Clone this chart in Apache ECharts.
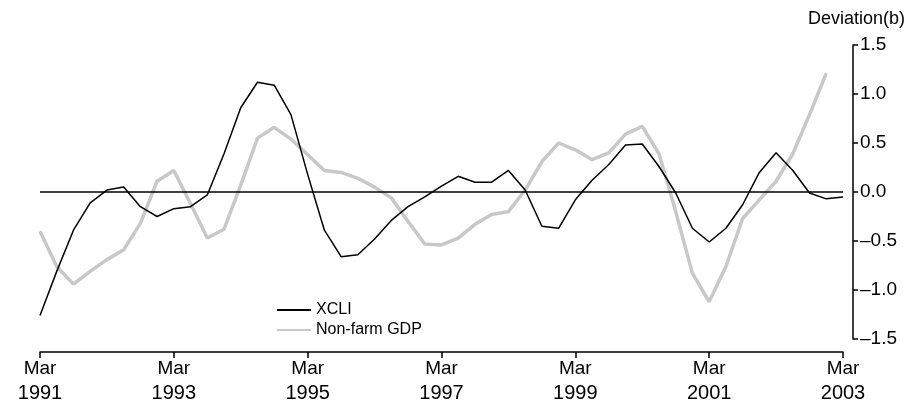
<!DOCTYPE html>
<html>
<head>
<meta charset="utf-8">
<script src="https://cdn.jsdelivr.net/npm/echarts@6/dist/echarts.min.js"></script>
<style>
  html, body { margin: 0; padding: 0; background: #fff; }
  #chart { width: 914px; height: 403px; }
</style>
</head>
<body>
<div id="chart"></div>
<script>
// quarters Mar 1991 .. Mar 2003
const months = ['Mar', 'Jun', 'Sep', 'Dec']
const quarters = []
for (let y = 1991; y <= 2003; y++) {
  months.forEach((m) => {
    if (y === 2003 && m !== 'Mar') return
    quarters.push(m + ' ' + y)
  })
}

const xcli = [
  -1.26, -0.81, -0.39, -0.11, 0.02, 0.05, -0.15, -0.25, -0.17, -0.15,
  -0.03, 0.39, 0.86, 1.12, 1.09, 0.79, 0.18, -0.39, -0.66, -0.64,
  -0.48, -0.29, -0.15, -0.05, 0.06, 0.16, 0.10, 0.10, 0.22, 0.02,
  -0.35, -0.37, -0.08, 0.12, 0.28, 0.48, 0.49, 0.26, -0.01, -0.37,
  -0.51, -0.37, -0.13, 0.20, 0.40, 0.22, -0.01, -0.07, -0.05,
]

const nonFarmGdp = [
  -0.40, -0.76, -0.94, -0.81, -0.69, -0.59, -0.32, 0.11, 0.22, -0.12,
  -0.47, -0.38, 0.07, 0.55, 0.66, 0.54, 0.38, 0.22, 0.20, 0.14,
  0.05, -0.06, -0.30, -0.53, -0.54, -0.47, -0.33, -0.23, -0.20, 0.02,
  0.31, 0.50, 0.43, 0.33, 0.40, 0.59, 0.67, 0.39, -0.20, -0.83,
  -1.12, -0.76, -0.27, -0.08, 0.11, 0.39, 0.79, 1.21, null,
]

const yTicks = [-1.5, -1.0, -0.5, 0.0, 0.5, 1.0, 1.5]

const font = 'Liberation Sans'
const chart = echarts.init(document.getElementById('chart'))

chart.setOption({
  animation: false,
  title: {
    text: 'Deviation(b)',
    right: 4,
    top: 5,
    textStyle: { fontFamily: font, fontSize: 18, fontWeight: 'normal', color: '#000' },
  },
  grid: {
    left: 40,
    right: 71,
    top: 45,
    bottom: 64,
  },
  legend: {
    orient: 'vertical',
    left: 271,
    top: 297,
    itemWidth: 34,
    itemHeight: 18,
    itemGap: 4,
    itemStyle: { color: 'transparent', borderColor: 'transparent', opacity: 0 },
    textStyle: { fontFamily: font, fontSize: 16, color: '#000' },
    data: ['XCLI', 'Non-farm GDP'],
  },
  xAxis: {
    type: 'category',
    data: quarters,
    boundaryGap: false,
    offset: 13,
    axisLine: { onZero: false, lineStyle: { color: '#000', width: 1.5 } },
    axisTick: { interval: 7, length: 6, lineStyle: { color: '#000', width: 1.5 } },
    axisLabel: {
      interval: 7,
      margin: 5,
      color: '#000',
      formatter: (v) => {
        const [m, y] = v.split(' ')
        return '{m|' + m + '}\n{y|' + y + '}'
      },
      rich: {
        m: { fontFamily: font, fontSize: 19, lineHeight: 24, color: '#000' },
        y: { fontFamily: font, fontSize: 20, lineHeight: 24, color: '#000' },
      },
    },
  },
  yAxis: {
    type: 'value',
    position: 'right',
    offset: 10,
    min: yTicks[0],
    max: yTicks[yTicks.length - 1],
    interval: 0.5,
    splitLine: { show: false },
    axisLine: { show: true, lineStyle: { color: '#000', width: 1.5 } },
    axisTick: { show: true, length: 5, lineStyle: { color: '#000', width: 1.5 } },
    axisLabel: {
      margin: 7,
      fontFamily: font,
      fontSize: 19,
      color: '#000',
      formatter: (v) => v.toFixed(1).replace('-', '\u2013'),
    },
  },
  series: [{
    name: 'XCLI',
    type: 'line',
    data: xcli,
    symbol: 'none',
    z: 3,
    lineStyle: { color: '#000', width: 1.5 },
    itemStyle: { color: '#000' },
    markLine: {
      silent: true,
      symbol: 'none',
      label: { show: false },
      lineStyle: { color: '#000', width: 1.5, type: 'solid' },
      data: [{ yAxis: 0 }],
    },
  }, {
    name: 'Non-farm GDP',
    type: 'line',
    data: nonFarmGdp,
    symbol: 'none',
    z: 2,
    lineStyle: { color: '#c8c8c8', width: 3.5 },
    itemStyle: { color: '#c8c8c8' },
  }],
})
</script>
</body>
</html>
